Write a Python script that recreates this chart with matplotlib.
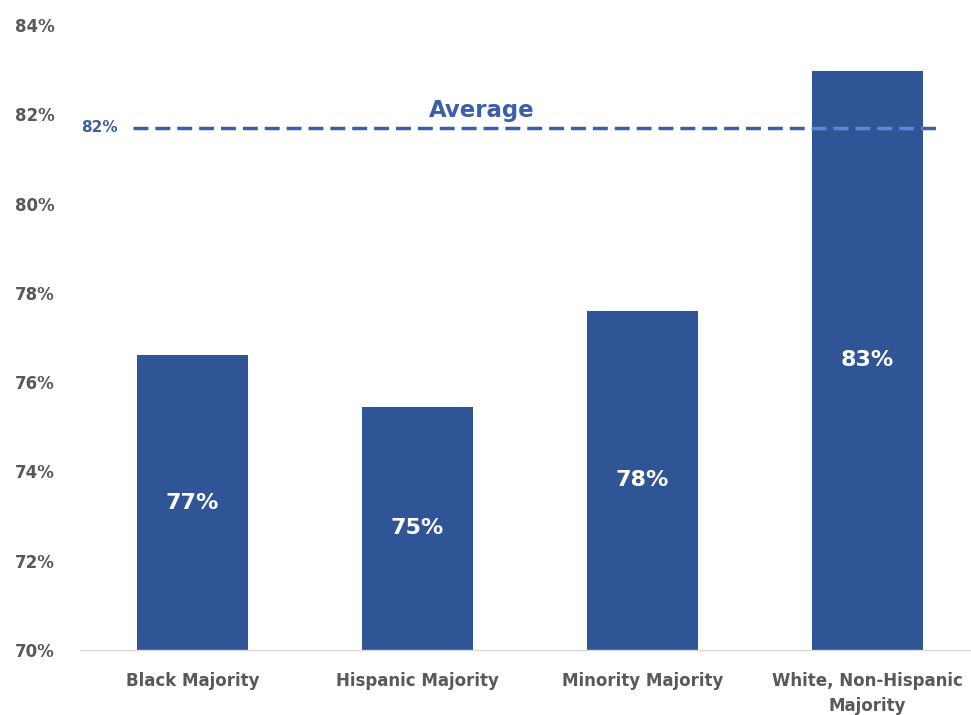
import numpy as np
import matplotlib.pyplot as plt
from matplotlib.ticker import FuncFormatter

# share of schools by majority group, percent
groups = ["Black Majority", "Hispanic Majority", "Minority Majority",
          "White, Non-Hispanic\nMajority"]
rates = [76.6, 75.45, 77.6, 82.98]
average = 81.7

bar_color = "#2f5597"
line_color = "#3d5ea8"
text_gray = "#595959"

fig = plt.figure(figsize=(9.71, 7.15), dpi=100)
ax = fig.add_axes([0.0824, 0.091, 0.927, 0.874])

x = np.arange(len(groups))
bars = ax.bar(x, rates, width=0.49, color=bar_color, zorder=2)

for xi, v in zip(x, rates):
    ax.text(xi, 70 + (v - 70) / 2, f"{v:.0f}%", ha="center", va="center",
            color="white", fontsize=16, fontweight="bold", zorder=4)

# average line, lighter where it crosses the tallest bar
dash = (0, (4.3, 2.0))
ax.plot([-0.264, 3.33], [average, average], ls=dash, lw=2.5,
        color=line_color, zorder=3)
over = ax.plot([-0.264, 3.33], [average, average], ls=dash, lw=2.5,
               color="#5b86d0", zorder=3.5)[0]
over.set_clip_path(bars[3])
ax.text(-0.331, average, f"{average:.0f}%", ha="right", va="center",
        color=line_color, fontsize=11, fontweight="bold")
ax.text(1.287, average + 0.12, "Average", ha="center", va="bottom",
        color=line_color, fontsize=16.5, fontweight="bold")

ax.set_xlim(-0.5, 3.5)
ax.set_ylim(70, 84)
ax.set_yticks(np.arange(70, 85, 2))
ax.yaxis.set_major_formatter(FuncFormatter(lambda v, _: f"{v:.0f}%"))
ax.set_xticks(x)
ax.set_xticklabels(groups, linespacing=1.5)
for lab in ax.get_xticklabels() + ax.get_yticklabels():
    lab.set_fontweight("bold")
    lab.set_color(text_gray)
    lab.set_fontsize(12)
ax.tick_params(axis="both", length=0)
ax.tick_params(axis="x", pad=16)
ax.tick_params(axis="y", pad=18)

for side in ["top", "right", "left"]:
    ax.spines[side].set_visible(False)
ax.spines["bottom"].set_color("#d9d9d9")
ax.spines["bottom"].set_linewidth(1)

fig.savefig("out.png", dpi=100)
